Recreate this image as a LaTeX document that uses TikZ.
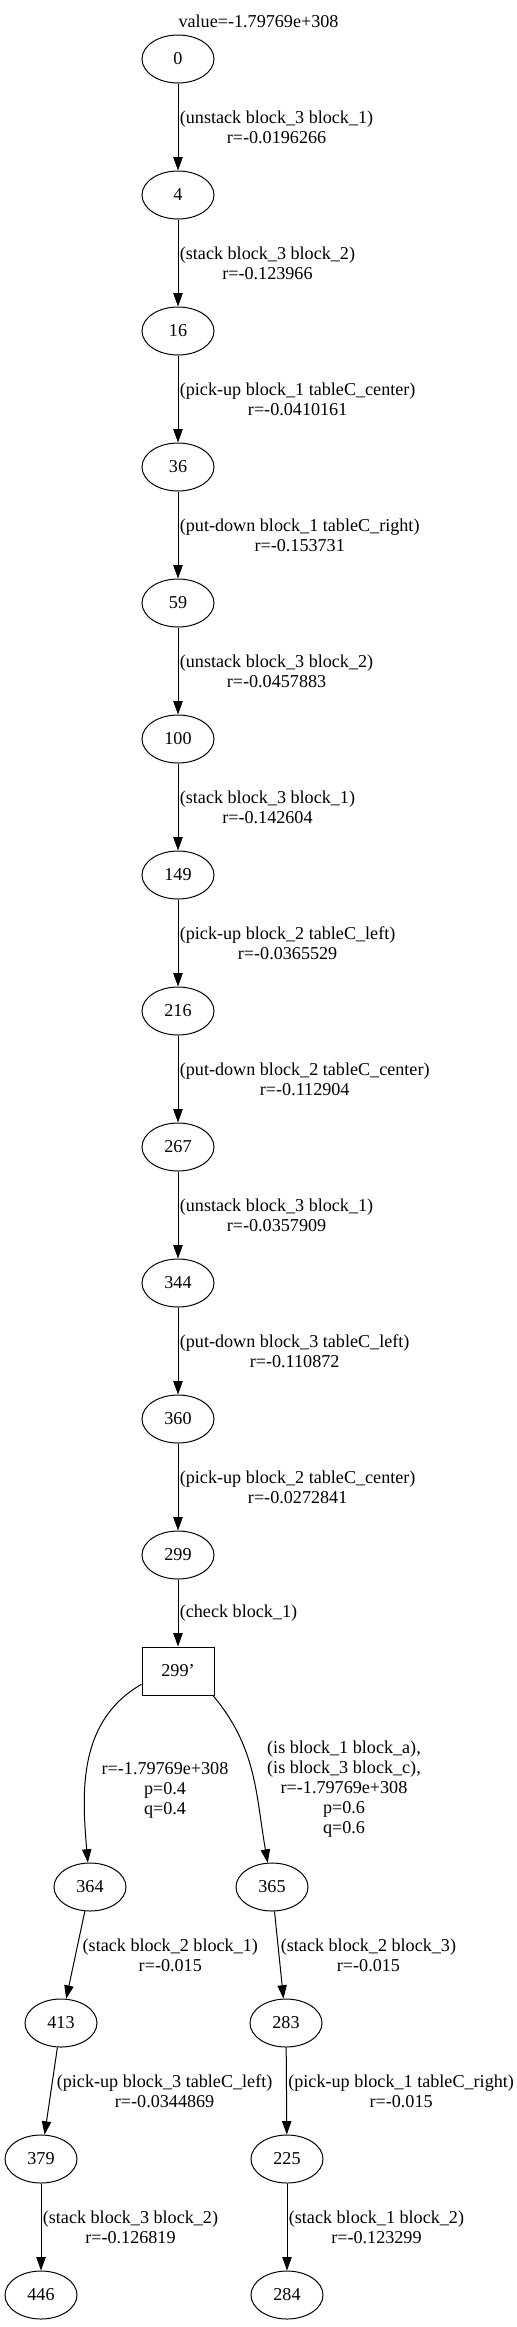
\documentclass[tikz,border=0pt]{standalone}
\usepackage{fontspec}
\setmainfont{Liberation Serif}
\usetikzlibrary{shapes.geometric, positioning, arrows.meta}
\tikzset{
  ->,
  >={Triangle[length=10pt,width=7pt]},
  node distance=102pt,
  every node/.style={font=\fontsize{13.6}{15}\selectfont},
  state/.style={draw, ellipse, minimum width=54pt, minimum height=36pt, inner sep=0pt},
  chance/.style={draw, rectangle, minimum width=54pt, minimum height=36pt, inner sep=0pt},
  elabel/.style={right, align=center, inner sep=1pt},
}

\begin{document}
\begin{tikzpicture}[line width=0.75pt]
      \useasboundingbox (0,0) rectangle (387.75pt,-1745.25pt);
      \node (title) at (193.9pt,-15.75pt) {value=-1.79769e+308};

      \node[state] (s0) at (133.5pt,-44.25pt) {0};
      \node[state,below of=s0]             (s4)   {4};
      \node[state,below of=s4]             (s16)  {16};
      \node[state,below of=s16]            (s36)  {36};
      \node[state,below of=s36]            (s59)  {59};
      \node[state,below of=s59]            (s100) {100};
      \node[state,below of=s100]           (s149) {149};
      \node[state,below of=s149]           (s216) {216};
      \node[state,below of=s216]           (s267) {267};
      \node[state,below of=s267]           (s344) {344};
      \node[state,below of=s344]           (s360) {360};
      \node[state,below of=s360]           (s299) {299};
      \node[chance,below of=s299,node distance=87pt] (s299c) {299'};

      \node[state,below of=s299c,node distance=162pt,xshift=-66pt]  (s364) {364};
      \node[state,below of=s299c,node distance=162pt,xshift=70.5pt] (s365) {365};
      \node[state,below of=s364,xshift=-21.75pt] (s413) {413};
      \node[state,below of=s413,xshift=-15pt]    (s379) {379};
      \node[state,below of=s379]                 (s446) {446};
      \node[state,below of=s365,xshift=10.5pt]   (s283) {283};
      \node[state,below of=s283,xshift=0.75pt]   (s225) {225};
      \node[state,below of=s225]                 (s284) {284};

      \node[below of=s299c,node distance=89.25pt,xshift=-9.75pt,align=center] (l364)
            {r=-1.79769e+308\\p=0.4\\q=0.4};
      \node[below of=s299c,node distance=88.5pt,xshift=124.5pt,align=center] (l365)
            {(is block\_1 block\_a),\\(is block\_3 block\_c),\\r=-1.79769e+308\\p=0.6\\q=0.6};

      \draw (s0)   edge node[elabel] {(unstack block\_3 block\_1)\\r=-0.0196266}       (s4)
            (s4)   edge node[elabel] {(stack block\_3 block\_2)\\r=-0.123966}          (s16)
            (s16)  edge node[elabel] {(pick-up block\_1 tableC\_center)\\r=-0.0410161} (s36)
            (s36)  edge node[elabel] {(put-down block\_1 tableC\_right)\\r=-0.153731}  (s59)
            (s59)  edge node[elabel] {(unstack block\_3 block\_2)\\r=-0.0457883}       (s100)
            (s100) edge node[elabel] {(stack block\_3 block\_1)\\r=-0.142604}          (s149)
            (s149) edge node[elabel] {(pick-up block\_2 tableC\_left)\\r=-0.0365529}   (s216)
            (s216) edge node[elabel] {(put-down block\_2 tableC\_center)\\r=-0.112904} (s267)
            (s267) edge node[elabel] {(unstack block\_3 block\_1)\\r=-0.0357909}       (s344)
            (s344) edge node[elabel] {(put-down block\_3 tableC\_left)\\r=-0.110872}   (s360)
            (s360) edge node[elabel] {(pick-up block\_2 tableC\_center)\\r=-0.0272841} (s299)
            (s299) edge node[elabel] {(check block\_1)}                                (s299c);

      \draw (s299c.200) to[out=210,in=95]  (s364);
      \draw (s299c.325) to[out=310,in=100] (s365);

      \draw (s364) edge node[elabel,xshift=4pt] {(stack block\_2 block\_1)\\r=-0.015}          (s413)
            (s413) edge node[elabel,xshift=3pt] {(pick-up block\_3 tableC\_left)\\r=-0.0344869} (s379)
            (s379) edge node[elabel] {(stack block\_3 block\_2)\\r=-0.126819}          (s446)
            (s365) edge node[elabel] {(stack block\_2 block\_3)\\r=-0.015}             (s283)
            (s283) edge node[elabel] {(pick-up block\_1 tableC\_right)\\r=-0.015}      (s225)
            (s225) edge node[elabel] {(stack block\_1 block\_2)\\r=-0.123299}          (s284);
\end{tikzpicture}
\end{document}
